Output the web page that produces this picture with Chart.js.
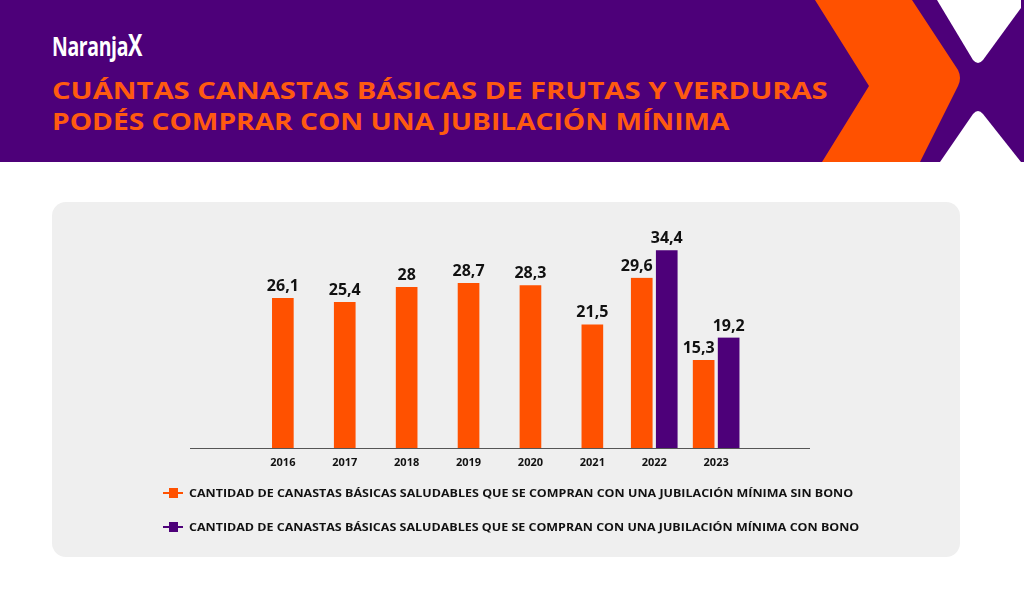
<!DOCTYPE html>
<html>
<head>
<meta charset="utf-8">
<script src="https://cdn.jsdelivr.net/npm/chart.js@4.4.0/dist/chart.umd.min.js"></script>
<style>
  body { margin: 0; width: 1024px; height: 592px; background: #fff; position: relative; overflow: hidden; font-family: "Open Sans", sans-serif; }
  #header { position: absolute; left: 0; top: 0; width: 1024px; height: 162px; background: #4d0079; }
  #header svg { position: absolute; left: 0; top: 0; }
  .fit { position: absolute; white-space: nowrap; transform-origin: 0 0; }
  #logo { left: 52px; top: 29px; color: #fff; font-weight: 700; font-size: 27px; line-height: 32px; letter-spacing: -0.5px; }
  #logo span { font-size: 30px; }
  .title { left: 52px; color: #ff5a10; font-weight: 700; font-size: 24px; line-height: 30px; }
  #t1 { top: 75px; }
  #t2 { top: 106px; }
  #panel { position: absolute; left: 52px; top: 202px; width: 908px; height: 355px; background: #efefef; border-radius: 14px; }
  canvas { position: absolute; left: 0; top: 0; }
  .leg { position: absolute; left: 163px; height: 14px; }
  .leg .mk { position: absolute; left: 0; top: 6px; width: 20px; height: 2px; }
  .leg .mk i { position: absolute; left: 6px; top: -4px; width: 9px; height: 10px; background: inherit; }
  .leg .tx { left: 26px; top: -2px; font-size: 11px; font-weight: 700; color: #111; line-height: 18px; }
</style>
</head>
<body>
<div id="header">
  <svg width="1024" height="162" viewBox="0 0 1024 162">
    <path d="M815 0 L912 0 L958 70 Q962 78 958 86 L920 162 L822 162 L869 86 Z" fill="#ff5100"/>
    <path d="M937 0 L1021 0 L1021 8 L983 60 Q978 66 973 60 Z" fill="#fff"/>
    <path d="M973 114 Q978 108 983 114 L1021 162 L940 162 Z" fill="#fff"/>
  </svg>
  <div id="logo" class="fit" data-w="90">Naranja<span>X</span></div>
  <div id="t1" class="fit title" data-w="776">CUÁNTAS CANASTAS BÁSICAS DE FRUTAS Y VERDURAS</div>
  <div id="t2" class="fit title" data-w="678">PODÉS COMPRAR CON UNA JUBILACIÓN MÍNIMA</div>
</div>
<div id="panel"></div>
<canvas id="chart" width="1024" height="592"></canvas>
<div class="leg" style="top:486px"><div class="mk" style="background:#ff5100"><i></i></div><div class="tx fit" id="l1" data-w="664"></div></div>
<div class="leg" style="top:520px"><div class="mk" style="background:#4d0079"><i></i></div><div class="tx fit" id="l2" data-w="670"></div></div>
<script>
const years = ['2016', '2017', '2018', '2019', '2020', '2021', '2022', '2023'];
const sinBono = [26.1, 25.4, 28, 28.7, 28.3, 21.5, 29.6, 15.3];
const conBono = [null, null, null, null, null, null, 34.4, 19.2];
const seriesNames = [
  'CANTIDAD DE CANASTAS BÁSICAS SALUDABLES QUE SE COMPRAN CON UNA JUBILACIÓN MÍNIMA SIN BONO',
  'CANTIDAD DE CANASTAS BÁSICAS SALUDABLES QUE SE COMPRAN CON UNA JUBILACIÓN MÍNIMA CON BONO'
];
const colors = ['#ff5100', '#4d0079'];

document.getElementById('l1').textContent = seriesNames[0];
document.getElementById('l2').textContent = seriesNames[1];

// estirar/comprimir los textos al ancho del original
document.querySelectorAll('.fit').forEach(el => {
  const w = parseFloat(el.dataset.w);
  el.style.transform = 'scaleX(' + (w / el.offsetWidth) + ')';
});

// etiquetas con el valor arriba de cada barra
const valueLabels = {
  id: 'valueLabels',
  afterDatasetsDraw(chart) {
    const ctx = chart.ctx;
    ctx.save();
    ctx.font = '700 16px "Open Sans"';
    ctx.fillStyle = '#111';
    ctx.textAlign = 'center';
    ctx.textBaseline = 'alphabetic';
    const other = chart.data.datasets[1].data;
    chart.data.datasets.forEach((ds, i) => {
      chart.getDatasetMeta(i).data.forEach((bar, j) => {
        const v = ds.data[j];
        if (v == null) return;
        // la barra naranja con vecina violeta lleva el número algo corrido a la izquierda
        const dx = (i === 0 && other[j] != null) ? -5 : 0;
        ctx.fillText(String(v).replace('.', ','), bar.x + dx, bar.y - 7);
      });
    });
    ctx.restore();
  }
};

// una categoría vacía a cada lado para dejar aire en el eje
const labels = [''].concat(years, ['']);

new Chart(document.getElementById('chart').getContext('2d'), {
  type: 'bar',
  data: {
    labels: labels,
    datasets: [
      { label: seriesNames[0], data: [null].concat(sinBono, [null]), backgroundColor: colors[0] },
      { label: seriesNames[1], data: [null].concat(conBono, [null]), backgroundColor: colors[1] }
    ]
  },
  options: {
    responsive: false,
    animation: false,
    layout: { padding: { left: 190, right: 215, top: 218, bottom: 114 } },
    datasets: {
      bar: {
        skipNull: true,
        barThickness: 25,
        borderWidth: { left: 2, right: 2, top: 0, bottom: 0 },
        borderColor: '#efefef',
        borderSkipped: false
      }
    },
    plugins: { legend: { display: false }, tooltip: { enabled: false } },
    scales: {
      x: {
        grid: { display: false, drawTicks: false },
        border: { display: true, color: '#555', width: 1 },
        ticks: { color: '#111', font: { family: 'Open Sans', weight: '700', size: 11 }, padding: 8 },
        afterFit: (scale) => { scale.height = 30; }
      },
      y: { display: false, min: 0, max: 40 }
    }
  },
  plugins: [valueLabels]
});
</script>
</body>
</html>
